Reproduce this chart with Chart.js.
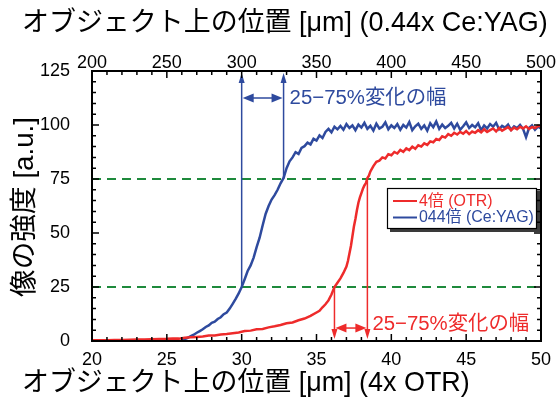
<!DOCTYPE html>
<html>
<head>
<meta charset="utf-8">
<script src="https://cdn.jsdelivr.net/npm/chart.js@4/dist/chart.umd.min.js"></script>
<style>
  html, body { margin: 0; padding: 0; background: #ffffff; }
  #wrap { position: relative; width: 559px; height: 397px; }
  #wrap canvas { display: block; position: absolute; left: 0; top: 0; }
  #frame { pointer-events: none; }
</style>
</head>
<body>
<div id="wrap">
  <canvas id="c" width="559" height="397"></canvas>
  <canvas id="frame" width="559" height="397"></canvas>
</div>
<script>
// ---- data ----------------------------------------------------------------
// 4x OTR profile (bottom axis, µm)
const redX = [20,20.5,21,21.5,22,22.5,23,23.5,24,24.5,25,25.4,25.8,26.2,26.6,27,27.4,27.8,28.2,28.6,
  29,29.4,29.8,30.2,30.6,31,31.4,31.8,32.2,32.6,33,33.4,33.8,34.2,34.6,35,35.2,35.4,35.6,35.8,
  36,36.2,36.4,36.6,36.8,37,37.1,37.2,37.3,37.4,37.5,37.6,37.7,37.8,37.9,38,38.1,38.2,38.3,38.4,
  38.5,38.6,38.8,39,39.2,39.4,39.6,39.8,40,40.2,40.4,40.6,40.8,41,41.2,41.4,41.6,41.8,42,42.2,
  42.4,42.6,42.8,43,43.2,43.4,43.6,43.8,44,44.2,44.4,44.6,44.8,45,45.2,45.4,45.6,45.8,46,46.2,
  46.4,46.6,46.8,47,47.2,47.4,47.6,47.8,48,48.2,48.4,48.6,48.8,49,49.2,49.4,49.6,49.8,50];
const redY = [0.3,0.4,0.4,0.5,0.5,0.6,0.7,0.7,0.8,0.9,1.0,1.2,1.1,1.5,1.7,1.9,2.1,2.5,2.6,3.0,
  3.2,3.6,3.9,4.6,4.8,5.4,5.6,6.3,6.8,7.4,8.2,8.6,9.6,10.4,11.6,13.2,14.0,15.6,17.0,18.8,
  21.5,25.0,27.0,29.0,31.5,34.5,37.0,40.5,44.0,48.5,53.0,56.5,60.5,64.0,66.5,68.5,70.5,72.0,73.0,75.5,
  76.5,78.5,81.0,83.0,83.5,85.0,84.5,86.5,86.0,87.5,86.8,88.5,87.6,89.2,88.4,90.0,89.0,90.6,90.0,91.5,
  90.8,92.4,92.0,93.5,93.0,94.8,94.2,95.8,95.0,96.4,95.6,96.8,96.0,97.2,95.8,97.0,96.4,97.6,96.6,98.0,
  96.8,97.6,98.4,97.0,98.6,97.4,98.2,99.0,97.6,98.8,98.0,99.2,98.4,99.4,98.2,99.0,98.6,99.6,99.4];

// 0.44x Ce:YAG profile (top axis, µm)
const blueX = [260,262,264,266,268,270,272,274,276,278,280,282,284,286,288,290,292,294,296,298,
  300,302,304,306,308,310,312,314,316,318,320,322,324,326,328,330,332,334,336,338,
  340,342,344,346,348,350,352,354,356,358,360,362,364,366,368,370,372,374,376,378,
  380,382,384,386,388,390,392,394,396,398,400,402,404,406,408,410,412,414,416,418,
  420,422,424,426,428,430,432,434,436,438,440,442,444,446,448,450,452,454,456,458,
  460,462,464,466,468,470,472,474,476,478,480,482,484,486,488,490,492,494,496,498,500];
const blueY = [0.2,0.9,1.5,2.3,2.9,3.8,4.6,5.4,6.5,7.2,8.4,8.9,10.2,11.0,12.4,13.2,15.0,17.2,19.5,22.0,
  25.0,28.6,32.4,35.0,38.6,43.5,47.8,53.5,58.8,62.5,65.5,67.5,70.0,73.0,75.5,80.0,83.2,85.0,87.4,86.6,
  89.4,90.2,91.8,91.0,93.6,92.8,95.2,94.0,96.8,98.2,96.6,99.2,98.0,99.6,97.8,100.4,98.6,99.8,97.6,100.2,
  98.8,101.0,98.2,99.6,97.4,100.6,98.4,99.2,101.2,98.0,99.8,98.6,100.4,97.8,100.0,98.8,101.4,97.6,99.4,100.6,
  98.2,99.8,97.4,100.8,99.0,101.6,98.2,100.2,98.6,99.6,101.0,98.4,100.6,97.8,99.4,101.2,98.6,100.0,99.0,100.8,
  97.6,99.8,98.4,100.4,99.2,101.0,98.0,99.6,98.8,100.2,97.8,99.4,98.6,100.0,98.2,94.4,98.6,99.8,97.8,99.2,98.4];

const seriesLabels = ['4倍 (OTR)', '044倍 (Ce:YAG)'];

// 25 % / 75 % crossings of each profile
const spanLevels = [25, 75];
const redSpan = [36.2, 38.4];
const blueSpan = [300, 328];
const spanText = '25−75%変化の幅';

// axis ticks
const bottomTicks = [20, 25, 30, 35, 40, 45, 50];
const topTicks = [200, 250, 300, 350, 400, 450, 500];
const yTicks = [0, 25, 50, 75, 100, 125];

const titleTop = 'オブジェクト上の位置 [μm] (0.44x Ce:YAG)';
const titleBottom = 'オブジェクト上の位置 [μm] (4x OTR)';
const titleLeft = '像の強度 [a.u.]';

// ---- styles --------------------------------------------------------------
const RED = '#ee2b2b';
const BLUE = '#2e4a9e';
const GREEN = '#1e8a3c';
const FAMILY = "'Liberation Sans', 'Noto Sans CJK JP', sans-serif";

function fitSize(ctx, text, targetW) {
  ctx.font = `20px ${FAMILY}`;
  return 20 * targetW / ctx.measureText(text).width;
}

function arrowHead(ctx, x, y, dx, dy, len, half) {
  // tip at (x, y), pointing along (dx, dy)
  const bx = x - dx * len, by = y - dy * len;
  ctx.beginPath();
  ctx.moveTo(x, y);
  ctx.lineTo(bx - dy * half, by + dx * half);
  ctx.lineTo(bx + dy * half, by - dx * half);
  ctx.closePath();
  ctx.fill();
}

// plot frame with inward major/minor tick marks, positioned from the chart's scales
function drawFrame(chart, ctx) {
  const { chartArea: a, scales } = chart;
  ctx.save();
  ctx.strokeStyle = '#000000';
  ctx.lineWidth = 2;
  ctx.strokeRect(a.left, a.top, a.right - a.left, a.bottom - a.top);
  ctx.lineWidth = 1.5;
  ctx.beginPath();
  for (let v = 0; v <= 125; v += 5) {
    const y = scales.y.getPixelForValue(v);
    const len = v % 25 === 0 ? 7 : 4;
    ctx.moveTo(a.left, y); ctx.lineTo(a.left + len, y);
    ctx.moveTo(a.right, y); ctx.lineTo(a.right - len, y);
  }
  for (let v = 20; v <= 50; v += 1) {
    const x = scales.x.getPixelForValue(v);
    const len = v % 5 === 0 ? 7 : 4;
    ctx.moveTo(x, a.bottom); ctx.lineTo(x, a.bottom - len);
  }
  for (let v = 200; v <= 500; v += 10) {
    const x = scales.x2.getPixelForValue(v);
    const len = v % 50 === 0 ? 7 : 4;
    ctx.moveTo(x, a.top); ctx.lineTo(x, a.top + len);
  }
  ctx.stroke();
  ctx.restore();
}

function drawTitles(chart) {
  const { ctx } = chart;
  ctx.save();
  ctx.fillStyle = '#000000';
  ctx.textBaseline = 'middle';
  ctx.textAlign = 'left';
  let fs = fitSize(ctx, titleTop, 526);
  ctx.font = `${fs}px ${FAMILY}`;
  ctx.fillText(titleTop, 22, 24);
  fs = fitSize(ctx, titleBottom, 448);
  ctx.font = `${fs}px ${FAMILY}`;
  ctx.fillText(titleBottom, 22, 384);
  fs = fitSize(ctx, titleLeft, 180);
  ctx.font = `${fs}px ${FAMILY}`;
  ctx.translate(25, 297);
  ctx.rotate(-Math.PI / 2);
  ctx.fillText(titleLeft, 0, 0);
  ctx.restore();
}

function drawAnnotations(chart) {
  const { ctx, chartArea: a, scales } = chart;
  const sy = scales.y;
  ctx.save();

  // Ce:YAG width: arrows rising from the 25 % / 75 % crossings to the top frame
  ctx.strokeStyle = BLUE; ctx.fillStyle = BLUE; ctx.lineWidth = 1.5;
  const bx = blueSpan.map(v => scales.x2.getPixelForValue(v));
  bx.forEach((x, i) => {
    const y0 = sy.getPixelForValue(spanLevels[i]);
    const tip = a.top + 2;
    ctx.beginPath(); ctx.moveTo(x, y0); ctx.lineTo(x, tip + 6); ctx.stroke();
    arrowHead(ctx, x, tip, 0, -1, 10, 3);
  });
  let hy = sy.getPixelForValue(112.5);
  ctx.beginPath(); ctx.moveTo(bx[0] + 8, hy); ctx.lineTo(bx[1] - 8, hy); ctx.stroke();
  arrowHead(ctx, bx[0] + 1, hy, -1, 0, 11, 4.5);
  arrowHead(ctx, bx[1] - 1, hy, 1, 0, 11, 4.5);
  const fs = fitSize(ctx, spanText, 157);
  ctx.font = `${fs}px ${FAMILY}`;
  ctx.textBaseline = 'middle'; ctx.textAlign = 'left';
  ctx.fillText(spanText, bx[1] + 6, hy);

  // OTR width: arrows dropping from the crossings to the bottom frame
  ctx.strokeStyle = RED; ctx.fillStyle = RED;
  const rx = redSpan.map(v => scales.x.getPixelForValue(v));
  rx.forEach((x, i) => {
    const y0 = sy.getPixelForValue(spanLevels[i]);
    const tip = a.bottom - 2;
    ctx.beginPath(); ctx.moveTo(x, y0); ctx.lineTo(x, tip - 6); ctx.stroke();
    arrowHead(ctx, x, tip, 0, 1, 10, 3);
  });
  hy = sy.getPixelForValue(6);
  ctx.beginPath(); ctx.moveTo(rx[0] + 8, hy); ctx.lineTo(rx[1] - 8, hy); ctx.stroke();
  arrowHead(ctx, rx[0] + 1, hy, -1, 0, 11, 4.5);
  arrowHead(ctx, rx[1] - 1, hy, 1, 0, 11, 4.5);
  ctx.font = `${fs}px ${FAMILY}`;
  ctx.fillText(spanText, rx[1] + 5, sy.getPixelForValue(7.5));
  ctx.restore();
}

function drawLegend(chart) {
  const { ctx } = chart;
  const box = { x: 387, y: 188, w: 150, h: 41 };
  ctx.save();
  ctx.fillStyle = '#3a3a3a';
  ctx.fillRect(box.x + 3, box.y + 3, box.w, box.h);
  ctx.fillStyle = '#ffffff';
  ctx.fillRect(box.x, box.y, box.w, box.h);
  ctx.strokeStyle = '#000000'; ctx.lineWidth = 1.2;
  ctx.strokeRect(box.x + 0.5, box.y + 0.5, box.w - 1, box.h - 1);
  const lfs = fitSize(ctx, seriesLabels[1], 115);
  ctx.font = `${lfs}px ${FAMILY}`;
  ctx.textBaseline = 'middle'; ctx.textAlign = 'left';
  const colors = [RED, BLUE];
  [201, 217.5].forEach((y, i) => {
    ctx.strokeStyle = colors[i]; ctx.fillStyle = colors[i]; ctx.lineWidth = 2;
    ctx.beginPath(); ctx.moveTo(393, y); ctx.lineTo(417, y); ctx.stroke();
    ctx.fillText(seriesLabels[i], 419, y + 0.5);
  });
  ctx.restore();
}

const frameCtx = document.getElementById('frame').getContext('2d');

const decor = {
  id: 'decor',
  beforeDatasetsDraw(chart) {
    const { ctx, chartArea: a, scales } = chart;
    ctx.save();
    ctx.strokeStyle = GREEN;
    ctx.lineWidth = 2;
    ctx.setLineDash([9, 6]);
    spanLevels.forEach(v => {
      const y = Math.round(scales.y.getPixelForValue(v));
      ctx.beginPath();
      ctx.moveTo(a.left, y);
      ctx.lineTo(a.right, y);
      ctx.stroke();
    });
    ctx.restore();
  },
  afterDraw(chart) {
    drawAnnotations(chart);
    drawLegend(chart);
    drawTitles(chart);
    // frame goes on its own layer above the chart
    frameCtx.clearRect(0, 0, 559, 397);
    drawFrame(chart, frameCtx);
  }
};

const tickFont = { family: "'Liberation Sans', sans-serif", size: 18 };
const showIn = list => v => (list.includes(v) ? String(v) : '');

new Chart(document.getElementById('c'), {
  type: 'line',
  data: {
    datasets: [
      {
        label: seriesLabels[0],
        data: redX.map((x, i) => ({ x, y: redY[i] })),
        xAxisID: 'x', yAxisID: 'y',
        borderColor: RED, borderWidth: 2.5,
        pointRadius: 0, tension: 0
      },
      {
        label: seriesLabels[1],
        data: blueX.map((x, i) => ({ x, y: blueY[i] })),
        xAxisID: 'x2', yAxisID: 'y',
        borderColor: BLUE, borderWidth: 2.5,
        pointRadius: 0, tension: 0
      }
    ]
  },
  options: {
    responsive: false,
    devicePixelRatio: 1,
    animation: false,
    events: [],
    layout: { padding: { right: 18 } },
    plugins: { legend: { display: false }, tooltip: { enabled: false } },
    scales: {
      x: {
        type: 'linear', position: 'bottom', min: 20, max: 50,
        afterFit: s => { s.height = 56; },
        grid: { display: false }, border: { display: false },
        ticks: { stepSize: 5, callback: showIn(bottomTicks), color: '#000', font: tickFont, padding: 0, maxRotation: 0 }
      },
      x2: {
        type: 'linear', position: 'top', min: 200, max: 500,
        afterFit: s => { s.height = 71; },
        grid: { display: false }, border: { display: false },
        ticks: { stepSize: 50, callback: showIn(topTicks), color: '#000', font: tickFont, padding: -11, maxRotation: 0 }
      },
      y: {
        type: 'linear', position: 'left', min: 0, max: 125,
        afterFit: s => { s.width = 92; },
        grid: { display: false }, border: { display: false },
        ticks: { stepSize: 25, callback: showIn(yTicks), color: '#000', font: tickFont, padding: 14 }
      }
    }
  },
  plugins: [decor]
});
</script>
</body>
</html>
